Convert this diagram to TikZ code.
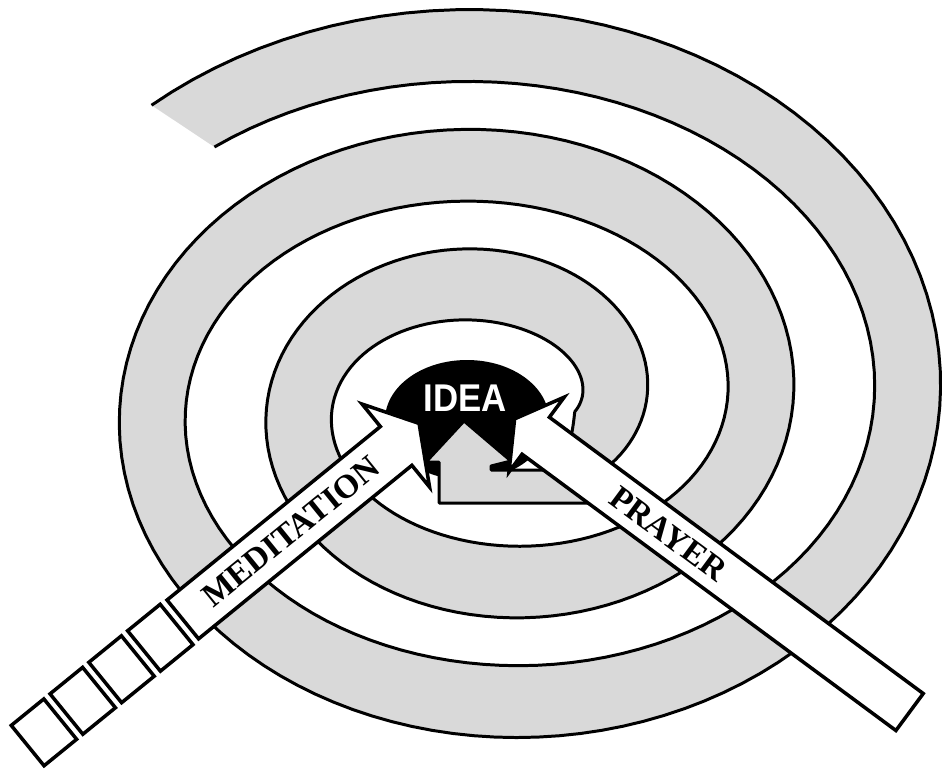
\documentclass[tikz,border=0pt]{standalone}
\usepackage{fontspec}
\newfontfamily\ideafont{Liberation Sans}
\newfontfamily\labelfont{Liberation Serif}
\definecolor{bandgray}{HTML}{D9D9D9}
\begin{document}
\begin{tikzpicture}[x=0.02cm,y=-0.02cm,
  outl/.style={line width=1.7pt, line join=round},
  arrowline/.style={line width=2pt, line join=miter, fill=white},
  lab/.style={font=\labelfont\bfseries\fontsize{19}{19}\selectfont, inner sep=0pt}]
\useasboundingbox (0,0) rectangle (942,771);
% black IDEA blob
\fill[black] (467,420) ellipse [x radius=82, y radius=60];
% spiral band ending in an upward arrow
\fill[bandgray]
  plot[domain=-43:845,samples=300,variable=\t]
    ({493.25+(483.5-0.408333*\t)*sin(\t)},{403.5-(393.5-0.333333*\t)*cos(\t)})
  .. controls (600,482) and (597,503) .. (588,503) -- (439,503) -- (439,462)
  -- (426,462) -- (464,421) -- (511,461) -- (491,466) -- (491,470) -- (548,470)
  .. controls (566,466) and (572,440) .. (574.7,411.9)
  -- plot[domain=820:-40,samples=300,variable=\t]
    ({493.25+(417.5-0.408333*\t)*sin(\t)},{403.5-(321.5-0.333333*\t)*cos(\t)})
  -- cycle;
\draw[outl]
  plot[domain=-43:845,samples=300,variable=\t]
    ({493.25+(483.5-0.408333*\t)*sin(\t)},{403.5-(393.5-0.333333*\t)*cos(\t)})
  .. controls (600,482) and (597,503) .. (588,503) -- (439,503) -- (439,462)
  -- (426,462) -- (464,421) -- (511,461) -- (491,466) -- (491,470) -- (548,470)
  .. controls (566,466) and (572,440) .. (574.7,411.9)
  -- plot[domain=820:-40,samples=300,variable=\t]
    ({493.25+(417.5-0.408333*\t)*sin(\t)},{403.5-(321.5-0.333333*\t)*cos(\t)});
% IDEA text
\node[text=white, font=\ideafont\bfseries\fontsize{22}{22}\selectfont, xscale=0.9, inner sep=0pt] (idea) at (465,398) {IDEA};
% MEDITATION arrow (local axes along the arrow)
\begin{scope}[x={(0.01552cm,0.01262cm)}, y={(0.01262cm,-0.01552cm)}]
  \draw[arrowline] (-249,571) -- (26,571) -- (26,542) -- (58,593) -- (26,649) -- (26,621) -- (-249,621) -- cycle;
  \foreach \k in {0,1,2,3} {
    \draw[arrowline] ({-299-50*\k},570) -- ({-257-50*\k},570) -- ({-257-50*\k},622) -- ({-299-50*\k},622) -- cycle;
  }
  \node[lab, rotate=39.1] (med) at (-110,596) {MEDITATION};
\end{scope}
% PRAYER arrow
\begin{scope}[x={(0.01608cm,-0.01188cm)}, y={(-0.01188cm,-0.01608cm)}]
  \draw[arrowline] (1155,9) -- (690,9) -- (690,-16) -- (663,31) -- (690,77) -- (690,55) -- (1155,55) -- cycle;
  \node[lab, rotate=-36.5] (pray) at (855,32) {PRAYER};
\end{scope}
\end{tikzpicture}
\end{document}
